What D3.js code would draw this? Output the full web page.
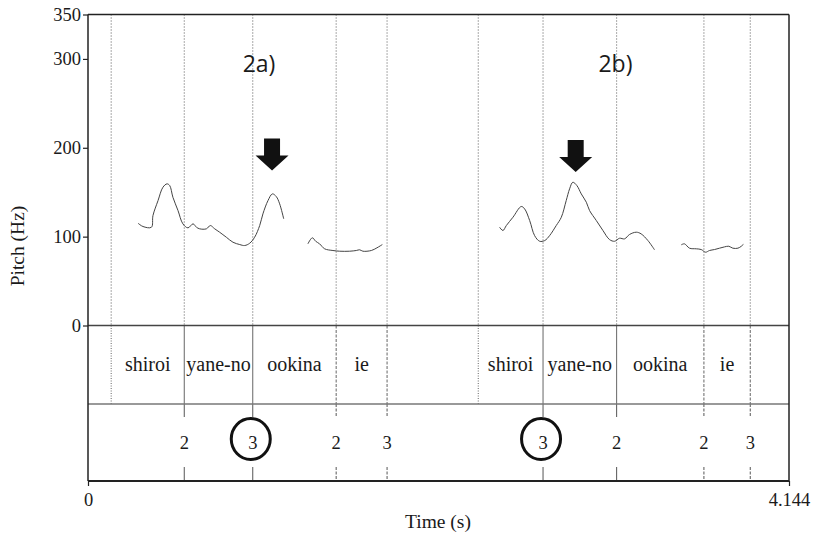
<!DOCTYPE html>
<html><head><meta charset="utf-8">
<script src="https://cdn.jsdelivr.net/npm/d3@7"></script>
<style>
body{margin:0;background:#fff;}
svg{display:block;}
text{fill:#1a1a1a;}
</style></head>
<body>
<svg id="chart" width="813" height="537"></svg>
<script>
// ---- data ----
const timeMax = 4.144;
const yTicks = [0, 100, 200, 300, 350];
const xTickLabels = [0, 4.144];
// boundaries (s) of the two utterances
const boundariesA = [0.137, 0.569, 0.974, 1.467, 1.768];
const boundariesB = [2.307, 2.690, 3.125, 3.641, 3.915];
const words = ["shiroi", "yane-no", "ookina", "ie"];
const tonesA = ["2", "3", "2", "3"];
const tonesB = ["3", "2", "2", "3"];
const circledA = [false, true, false, false];
const circledB = [true, false, false, false];
const panelLabels = ["2a)", "2b)"];
const panelLabelTimes = [1.011, 3.118];
const panelLabelHz = [285, 285];
// arrows: [time, Hz] of tip
const arrowTips = [[1.088, 174.4], [2.883, 172.7]];
// pitch contours [time (s), Hz]
const contourA1 = [[0.296,115.1],[0.325,111.4],[0.375,110.6],[0.384,123.7],[0.414,140.6],[0.443,155.6],[0.467,159.4],[0.483,157.5],[0.502,144.3],[0.532,129.4],[0.561,114.4],[0.591,109.9],[0.621,114.4],[0.641,110.6],[0.660,108.8],[0.700,108.8],[0.723,112.5],[0.749,108.8],[0.778,105.0],[0.818,99.3],[0.857,93.7],[0.897,91.1],[0.926,90.0],[0.956,92.6],[0.985,99.3],[1.015,112.5],[1.034,125.6],[1.064,140.6],[1.090,148.1],[1.113,145.1],[1.133,136.9],[1.157,120.0]];
const contourA2 = [[1.300,91.9],[1.326,98.7],[1.346,94.8],[1.369,91.9],[1.399,86.3],[1.448,84.4],[1.488,83.6],[1.547,83.6],[1.586,84.4],[1.606,85.2],[1.625,83.6],[1.675,84.4],[1.708,87.4],[1.740,91.1]];
const contourB1 = [[2.433,110.6],[2.453,106.9],[2.473,112.5],[2.512,121.8],[2.561,133.9],[2.581,131.3],[2.611,118.1],[2.640,101.2],[2.670,94.8],[2.700,95.6],[2.729,101.2],[2.768,112.5],[2.798,121.8],[2.827,140.6],[2.847,153.8],[2.866,161.2],[2.890,157.5],[2.916,148.1],[2.946,138.7],[2.965,129.4],[3.005,118.1],[3.044,106.9],[3.083,96.7],[3.113,94.8],[3.142,98.2],[3.172,97.5],[3.201,102.4],[3.241,105.0],[3.270,103.1],[3.310,95.6],[3.349,85.2]];
const contourB2 = [[3.507,90.8],[3.526,91.9],[3.556,87.0],[3.596,86.3],[3.625,85.5],[3.651,82.5],[3.674,84.4],[3.704,85.5],[3.733,87.0],[3.763,88.5],[3.788,89.2],[3.812,87.0],[3.842,87.0],[3.862,89.2],[3.875,91.5]];

// ---- layout ----
const svg = d3.select("#chart");
const x = d3.scaleLinear().domain([0, timeMax]).range([88, 789]);
const y = d3.scaleLinear().domain([0, 350]).range([325.5, 14.5]);
const wordTop = y(0), toneTop = 404, tierBottom = 481;
const serif = "'Liberation Serif','Times New Roman',serif";

// vertical boundary lines in pitch area
const allB = boundariesA.concat(boundariesB);
svg.append("g").selectAll("line").data(allB).join("line")
  .attr("x1", d => x(d)).attr("x2", d => x(d))
  .attr("y1", y(350)).attr("y2", wordTop)
  .attr("stroke", "#555").attr("stroke-width", 1).attr("stroke-dasharray", "1,2");

// word tier boundaries
const wordStyle = i => i === 0 ? "1,1.5" : (i < 3 ? null : "3,1.5");
[boundariesA, boundariesB].forEach(bs => {
  svg.append("g").selectAll("line").data(bs).join("line")
    .attr("x1", d => x(d)).attr("x2", d => x(d))
    .attr("y1", wordTop).attr("y2", toneTop)
    .attr("stroke", "#666").attr("stroke-width", 1)
    .attr("stroke-dasharray", (d, i) => wordStyle(i));
  // tone tier segments
  const tb = bs.slice(1);
  [[toneTop, toneTop + 13], [tierBottom - 14, tierBottom]].forEach(([a, b]) => {
    svg.append("g").selectAll("line").data(tb).join("line")
      .attr("x1", d => x(d)).attr("x2", d => x(d))
      .attr("y1", a).attr("y2", b)
      .attr("stroke", "#555").attr("stroke-width", 1)
      .attr("stroke-dasharray", (d, i) => wordStyle(i + 1));
  });
  // word labels
  svg.append("g").selectAll("text").data(words).join("text")
    .attr("x", (d, i) => (x(bs[i]) + x(bs[i + 1] !== undefined ? bs[i + 1] : bs[i])) / 2)
    .attr("y", 371).attr("text-anchor", "middle")
    .style("font-family", serif).style("font-size", "20px")
    .text(d => d);
});

// horizontal lines
svg.append("line").attr("x1", 88).attr("x2", 789).attr("y1", y(350)).attr("y2", y(350))
  .attr("stroke", "#222").attr("stroke-width", 1.6);
svg.append("line").attr("x1", 88).attr("x2", 789).attr("y1", wordTop).attr("y2", wordTop)
  .attr("stroke", "#444").attr("stroke-width", 1.3);
svg.append("line").attr("x1", 88).attr("x2", 789).attr("y1", toneTop).attr("y2", toneTop)
  .attr("stroke", "#777").attr("stroke-width", 1.3);
svg.append("line").attr("x1", 789).attr("x2", 789).attr("y1", y(350)).attr("y2", tierBottom)
  .attr("stroke", "#222").attr("stroke-width", 1.5);
svg.append("line").attr("x1", 88).attr("x2", 88).attr("y1", y(350)).attr("y2", tierBottom)
  .attr("stroke", "#222").attr("stroke-width", 1.5);

// y axis
const yAxis = svg.append("g").attr("transform", "translate(88,0)")
  .call(d3.axisLeft(y).tickValues(yTicks).tickSize(5).tickPadding(2).tickFormat(d3.format("d")));
yAxis.select(".domain").remove();
yAxis.selectAll("line").attr("stroke", "#222").attr("stroke-width", 1.2);
yAxis.selectAll("text").style("font-family", serif).style("font-size", "18.5px").attr("fill", "#1a1a1a");

// x axis
const xAxis = svg.append("g").attr("transform", `translate(0,${tierBottom})`)
  .call(d3.axisBottom(x).tickValues(xTickLabels).tickSize(5).tickPadding(7)
    .tickFormat(d => d === 0 ? "0" : d3.format(".3f")(d)));
xAxis.select(".domain").attr("stroke", "#222").attr("stroke-width", 1.8).attr("d", `M88,0H789`);
xAxis.selectAll("line").attr("stroke", "#222").attr("stroke-width", 1.2);
xAxis.selectAll("text").style("font-family", serif).style("font-size", "18.5px").attr("fill", "#1a1a1a");

// tones
[[boundariesA, tonesA, circledA], [boundariesB, tonesB, circledB]].forEach(([bs, ts, cs]) => {
  const g = svg.append("g");
  g.selectAll("text").data(ts).join("text")
    .attr("x", (d, i) => x(bs[i + 1])).attr("y", 449).attr("text-anchor", "middle")
    .style("font-family", serif).style("font-size", "18.5px").text(d => d);
  g.selectAll("ellipse").data(ts.map((d, i) => i).filter(i => cs[i])).join("ellipse")
    .attr("cx", i => x(bs[i + 1]) - 2).attr("cy", 439).attr("rx", 19.5).attr("ry", 20.5)
    .attr("fill", "none").attr("stroke", "#111").attr("stroke-width", 3);
});

// contours
const line = d3.line().x(d => x(d[0])).y(d => y(d[1])).curve(d3.curveCatmullRom.alpha(0.5));
[contourA1, contourA2, contourB1, contourB2].forEach(c => {
  svg.append("path").datum(c).attr("d", line)
    .attr("fill", "none").attr("stroke", "#444").attr("stroke-width", 1);
});

// arrows
svg.append("g").selectAll("path").data(arrowTips).join("path")
  .attr("d", d => {
    const tx = x(d[0]), ty = y(d[1]);
    return `M${tx},${ty} L${tx - 16.5},${ty - 15} L${tx - 8},${ty - 15} L${tx - 8},${ty - 32} L${tx + 8},${ty - 32} L${tx + 8},${ty - 15} L${tx + 16.5},${ty - 15} Z`;
  })
  .attr("fill", "#111");

// panel labels
svg.append("g").selectAll("text").data(panelLabels).join("text")
  .attr("x", (d, i) => x(panelLabelTimes[i])).attr("y", (d, i) => y(panelLabelHz[i]))
  .attr("text-anchor", "middle")
  .style("font-family", "'Open Sans',sans-serif").style("font-size", "23px")
  .text(d => d);

// axis titles
svg.append("text").attr("transform", "translate(24,246) rotate(-90)")
  .attr("text-anchor", "middle")
  .style("font-family", serif).style("font-size", "19.5px").text("Pitch (Hz)");
svg.append("text").attr("x", 438).attr("y", 528).attr("text-anchor", "middle")
  .style("font-family", serif).style("font-size", "19.5px").text("Time (s)");
</script>
</body></html>
